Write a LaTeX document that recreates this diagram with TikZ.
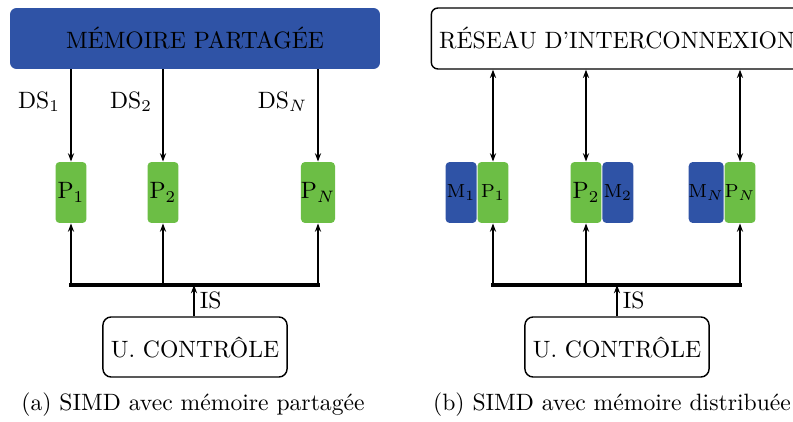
\documentclass[tikz,border=0pt]{standalone}
\usepackage{fontspec}
\usetikzlibrary{arrows.meta,positioning}

\definecolor{memblue}{RGB}{47,83,166}
\definecolor{procgreen}{RGB}{108,190,69}

\begin{document}
\begin{tikzpicture}[x=0.423pt,y=-0.423pt,
        >={Stealth[length=3.5pt,width=2.6pt]},
        arr/.style={->,line width=0.7pt},
        darr/.style={<->,line width=0.7pt},
        bus/.style={line width=1.3pt,line cap=rect},
        isarr/.style={->,line width=1.2pt},
        proc/.style={fill=procgreen,rounded corners=1.7pt,minimum width=13.1pt,minimum height=25.8pt,inner sep=0pt},
        mem/.style={fill=memblue,rounded corners=1.7pt,minimum width=13.1pt,minimum height=25.8pt,inner sep=0pt},
        small/.style={font=\footnotesize},
        bigbox/.style={rounded corners=2.8pt,minimum width=156.5pt,minimum height=25.8pt},
        ctrl/.style={draw,line width=0.6pt,rounded corners=3.5pt,minimum width=77.8pt,minimum height=25.4pt}]
    \useasboundingbox (0,0) rectangle (793,422);

    % (a) memoire partagee
    \node[bigbox,fill=memblue] (mema) at (195,38.5) {MÉMOIRE PARTAGÉE};
    \node[proc] (pa1) at (71,192.5) {P$_1$};
    \node[proc] (pa2) at (163,192.5) {P$_2$};
    \node[proc] (paN) at (318,192.5) {P$_N$};
    \node[ctrl] (ctla) at (195,347) {U. CONTRÔLE};
    \coordinate (busa) at (194,285);

    \draw[arr] (mema.south -| pa1.north) -- node[pos=0.35,left=1pt]{DS$_1$} (pa1.north);
    \draw[arr] (mema.south -| pa2.north) -- node[pos=0.35,left=1pt]{DS$_2$} (pa2.north);
    \draw[arr] (mema.south -| paN.north) -- node[pos=0.35,left=1pt]{DS$_N$} (paN.north);

    \draw[arr] (pa1.south |- busa) -- (pa1.south);
    \draw[arr] (pa2.south |- busa) -- (pa2.south);
    \draw[arr] (paN.south |- busa) -- (paN.south);
    \draw[bus] (pa1.south |- busa) -- (paN.south |- busa);
    \draw[isarr] (ctla.north -| busa) -- node[midway,right=-1.5pt]{IS} (busa);

    \node (capa) at (193,405) {(a) SIMD avec mémoire partagée};

    % (b) memoire distribuee
    \node[bigbox,draw,line width=0.6pt,fill=white] (netb) at (617,38.5) {RÉSEAU D'INTERCONNEXION};
    \node[proc,small] (pb1) at (493,192.5) {P$_1$};
    \node[mem,small,left=0pt of pb1] (mb1) {M$_1$};
    \node[proc] (pb2) at (586,192.5) {P$_2$};
    \node[mem,small,right=0pt of pb2] (mb2) {M$_2$};
    \node[proc,small] (pbN) at (740,192.5) {P$_N$};
    \node[mem,small,left=0pt of pbN] (mbN) {M$_N$};
    \node[ctrl] (ctlb) at (617,347) {U. CONTRÔLE};
    \coordinate (busb) at (617,285);

    \draw[darr] (netb.south -| pb1.north) -- (pb1.north);
    \draw[darr] (netb.south -| pb2.north) -- (pb2.north);
    \draw[darr] (netb.south -| pbN.north) -- (pbN.north);

    \draw[arr] (pb1.south |- busb) -- (pb1.south);
    \draw[arr] (pb2.south |- busb) -- (pb2.south);
    \draw[arr] (pbN.south |- busb) -- (pbN.south);
    \draw[bus] (pb1.south |- busb) -- (pbN.south |- busb);
    \draw[isarr] (ctlb.north -| busb) -- node[midway,right=-1.5pt]{IS} (busb);

    \node (capb) at (612,405) {(b) SIMD avec mémoire distribuée};
\end{tikzpicture}
\end{document}
